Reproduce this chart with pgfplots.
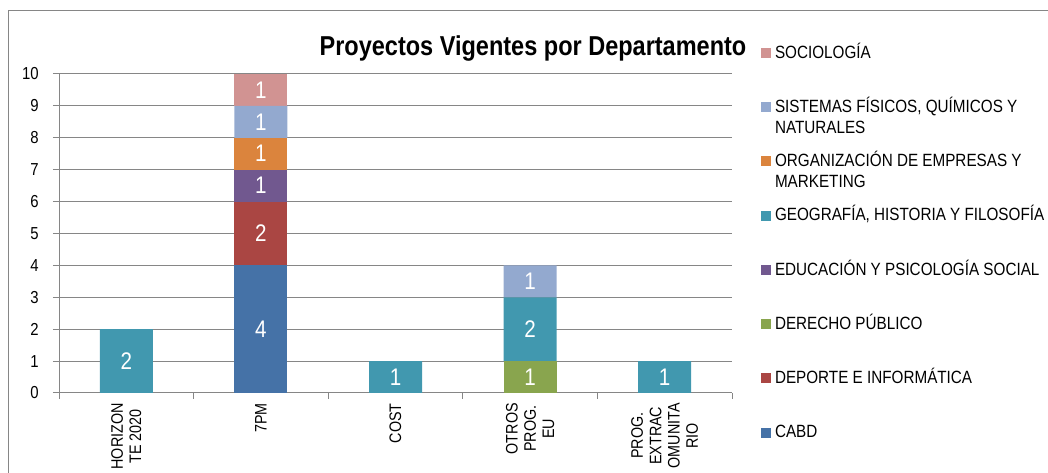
\documentclass[border=0pt]{standalone}
\usepackage{pgfplots}
\pgfplotsset{compat=1.18}
\usepackage{pgfplotstable}
\usepackage{fontspec}
\setmainfont{Liberation Sans}[FakeStretch=0.86]

\definecolor{cCABD}{HTML}{4572A7}
\definecolor{cDep}{HTML}{AA4643}
\definecolor{cDer}{HTML}{89A54E}
\definecolor{cEdu}{HTML}{71588F}
\definecolor{cGeo}{HTML}{4198AF}
\definecolor{cOrg}{HTML}{DB843D}
\definecolor{cSis}{HTML}{93A9CF}
\definecolor{cSoc}{HTML}{D19392}
\definecolor{grisEje}{HTML}{868686}

% proyectos por programa (columnas = departamentos)
\pgfplotstableread{
x cabd dep der edu geo org sis soc
0 0 0 0 0 2 0 0 0
1 4 2 0 1 0 1 1 1
2 0 0 0 0 1 0 0 0
3 0 0 1 0 2 0 1 0
4 0 0 0 0 1 0 0 0
}\proyectos

\pgfplotsset{tramo/.style={fill=#1, draw=none}}
\newcommand\dos[2]{\raisebox{0pt}[\height][0pt]{\parbox[t]{80mm}{#1\\#2}}}

\begin{document}
\begin{tikzpicture}
\draw[grisEje, line width=0.75pt] (6pt,-20pt) rectangle (820pt,346.5pt);
\node[anchor=base, font=\bfseries\fontsize{20.5}{24}\selectfont] at (399.75pt,312.75pt) {Proyectos Vigentes por Departamento};
\begin{axis}[
  at={(44.25pt,60pt)}, anchor=south west,
  scale only axis, width=504.75pt, height=239.25pt,
  ybar stacked, bar width=39.75pt,
  xmin=-0.5, xmax=4.5, ymin=0, ymax=10,
  clip=false,
  ytick={0,...,10},
  xtick={0,...,4},
  xticklabels={{HORIZON\\TE 2020}, {7PM}, {COST}, {OTROS\\PROG.\\EU}, {PROG.\\EXTRAC\\OMUNITA\\RIO}},
  minor xtick={-0.5,0.5,...,4.5},
  major x tick style={draw=none},
  major tick length=4.5pt, minor tick length=4.5pt,
  tick align=outside,
  axis x line*=bottom, axis y line*=left,
  axis line style={grisEje, line width=0.75pt},
  tick style={grisEje, line width=0.75pt},
  ymajorgrids, grid style={grisEje, line width=0.75pt},
  /pgf/number format/assume math mode=true,
  yticklabel style={inner sep=0pt, font=\fontsize{13}{15}\selectfont},
  yticklabel shift=10.5pt,
  xticklabel style={rotate=90, anchor=east, align=center, inner sep=0pt,
    font=\fontsize{12.5}{13.75}\selectfont},
  xticklabel shift=3pt,
  point meta=explicit,
  nodes near coords={\pgfmathfloatifflags{\pgfplotspointmeta}{0}{}{\pgfmathprintnumber{\pgfplotspointmeta}}},
  every node near coord/.append style={anchor=center, text=white,
    font=\fontsize{18}{18}\selectfont},
  reverse legend,
  legend cell align=left,
  legend image code/.code={\fill[#1] (0pt,-4.75pt) rectangle (7.5pt,2.75pt);},
  legend style={draw=none, fill=none, inner sep=0pt, outer sep=0pt,
    at={(axis description cs:1.0431,1.0918)}, anchor=north west,
    row sep=30.7pt, column sep=3pt,
    nodes={inner sep=0pt, text height=10pt, text depth=0pt},
    font=\fontsize{13.3}{15.75}\selectfont},
]
\addplot[tramo=cCABD] table[x=x, y=cabd, meta=cabd] {\proyectos};
\addlegendentry{CABD}
\addplot[tramo=cDep] table[x=x, y=dep, meta=dep] {\proyectos};
\addlegendentry{DEPORTE E INFORMÁTICA}
\addplot[tramo=cDer] table[x=x, y=der, meta=der] {\proyectos};
\addlegendentry{DERECHO PÚBLICO}
\addplot[tramo=cEdu] table[x=x, y=edu, meta=edu] {\proyectos};
\addlegendentry{EDUCACIÓN Y PSICOLOGÍA SOCIAL}
\addplot[tramo=cGeo] table[x=x, y=geo, meta=geo] {\proyectos};
\addlegendentry{GEOGRAFÍA, HISTORIA Y FILOSOFÍA}
\addplot[tramo=cOrg] table[x=x, y=org, meta=org] {\proyectos};
\addlegendentry{\dos{ORGANIZACIÓN DE EMPRESAS Y}{MARKETING}}
\addplot[tramo=cSis] table[x=x, y=sis, meta=sis] {\proyectos};
\addlegendentry{\dos{SISTEMAS FÍSICOS, QUÍMICOS Y}{NATURALES}}
\addplot[tramo=cSoc] table[x=x, y=soc, meta=soc] {\proyectos};
\addlegendentry{SOCIOLOGÍA}
\end{axis}
\pgfresetboundingbox
\useasboundingbox (0,0) rectangle (786pt,354.75pt);
\end{tikzpicture}
\end{document}
